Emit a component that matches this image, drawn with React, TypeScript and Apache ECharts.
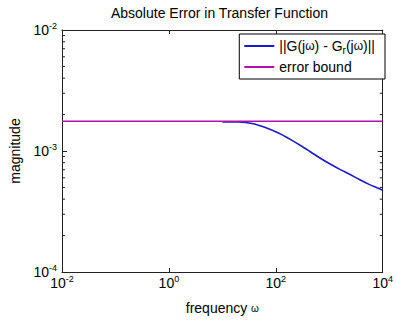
import React, { useEffect, useRef } from "react";
import * as echarts from "echarts";

// ---- data ----
const freqBlue = [10, 20, 36, 62, 112, 193, 294, 448, 681, 1038, 1578, 2399, 3656, 5559, 7780, 10000];
const errBlue = [
  1.74e-3, 1.735e-3, 1.69e-3, 1.57e-3, 1.406e-3, 1.236e-3, 1.106e-3, 9.82e-4, 8.71e-4, 7.8e-4, 7.05e-4,
  6.43e-4, 5.81e-4, 5.3e-4, 4.97e-4, 4.74e-4,
];
const boundFreq = [0.01, 10000];
const boundValue = [1.76e-3, 1.76e-3];
const yMinorTicks = [2e-4, 3e-4, 4e-4, 5e-4, 6e-4, 7e-4, 8e-4, 9e-4, 2e-3, 3e-3, 4e-3, 5e-3, 6e-3, 7e-3, 8e-3, 9e-3];
const seriesNames = ["||G(jω) - Gr(jω)||", "error bound"];
const titleText = "Absolute Error in Transfer Function";
const xName = "frequency";
const yName = "magnitude";

const FONT = "'Liberation Sans', Arial, sans-serif";
const AXIS = "#222";

const expLabel = (v: number) => {
  const e = Math.round(Math.log10(v));
  return `{b|10}{s|${e}}`;
};
const labelRich = {
  b: { fontSize: 14, fontFamily: FONT, color: "#000" },
  s: { fontSize: 9, fontFamily: FONT, color: "#000", padding: [0, 0, 9, 0] },
};

export default function App() {
  const ref = useRef<HTMLDivElement>(null);
  useEffect(() => {
    if (!ref.current) return;
    const chart = echarts.init(ref.current, null, { renderer: "svg" });
    const baseX = {
      type: "log",
      logBase: 10,
      min: 0.01,
      max: 10000,
      interval: 2,
      splitNumber: 3,
      axisLine: { show: true, lineStyle: { color: AXIS, width: 1 } },
      axisTick: { show: true, inside: true, length: 4, lineStyle: { color: AXIS } },
      splitLine: { show: false },
      minorTick: { show: false },
    };
    const baseY = {
      type: "log",
      logBase: 10,
      min: 1e-4,
      max: 1e-2,
      interval: 1,
      splitNumber: 2,
      axisLine: { show: true, lineStyle: { color: AXIS, width: 1 } },
      axisTick: { show: true, inside: true, length: 5, lineStyle: { color: AXIS } },
      splitLine: { show: false },
      minorTick: { show: false },
    };
    chart.setOption({
      animation: false,
      backgroundColor: "#fff",
      grid: { left: 55, top: 30, right: 11, bottom: 40, containLabel: false },
      graphic: [
        {
          type: "text",
          x: 219.5,
          y: 13,
          style: {
            text: titleText,
            fontSize: 14,
            fontFamily: FONT,
            fill: "#000",
            textAlign: "center",
            textVerticalAlign: "middle",
          },
        },
      ],
      legend: {
        data: seriesNames,
        orient: "vertical",
        align: "left",
        right: 11,
        top: 34,
        icon: "rect",
        itemWidth: 30,
        itemHeight: 2,
        itemGap: 5,
        padding: [5, 10, 5, 5],
        backgroundColor: "#fff",
        borderColor: "#000",
        borderWidth: 1,
        borderRadius: 0,
        formatter: (name: string) =>
          name === seriesNames[0] ? "||G(j{w|ω}) - G{sub|r}(j{w|ω})||" : name,
        textStyle: {
          fontSize: 14,
          fontFamily: FONT,
          color: "#000",
          rich: {
            w: { fontSize: 12, fontFamily: FONT, color: "#000" },
            sub: { fontSize: 10, fontFamily: FONT, color: "#000", padding: [8, 0, 0, 0] },
          },
        },
      },
      xAxis: [
        {
          ...baseX,
          position: "bottom",
          name: xName + " {w|ω}",
          nameLocation: "middle",
          nameGap: 29,
          nameTextStyle: {
            fontSize: 14,
            fontFamily: FONT,
            color: "#000",
            rich: { w: { fontSize: 10, fontFamily: FONT, color: "#000" } },
          },
          axisLabel: { show: true, margin: 2, formatter: expLabel, rich: labelRich },
        },
        {
          ...baseX,
          position: "top",
          axisLabel: { show: false },
        },
      ],
      yAxis: [
        {
          ...baseY,
          position: "left",
          name: yName,
          nameLocation: "middle",
          nameGap: 40,
          nameRotate: 90,
          nameTextStyle: { fontSize: 14, fontFamily: FONT, color: "#000" },
          axisLabel: { show: true, margin: 5, formatter: expLabel, rich: labelRich },
        },
        {
          ...baseY,
          position: "right",
          axisLabel: { show: false },
        },
      ],
      series: [
        {
          name: seriesNames[0],
          type: "line",
          xAxisIndex: 0,
          yAxisIndex: 0,
          data: freqBlue.map((f, i) => [f, errBlue[i]]),
          symbol: "none",
          smooth: 0.3,
          lineStyle: { color: "#1a1acc", width: 1.6 },
          itemStyle: { color: "#1a1acc" },
          z: 3,
        },
        {
          name: seriesNames[1],
          type: "line",
          xAxisIndex: 0,
          yAxisIndex: 0,
          data: boundFreq.map((f, i) => [f, boundValue[i]]),
          symbol: "none",
          lineStyle: { color: "#b010b0", width: 1.6 },
          itemStyle: { color: "#b010b0" },
          z: 4,
        },
        {
          type: "custom",
          xAxisIndex: 0,
          yAxisIndex: 0,
          silent: true,
          data: yMinorTicks.map((v) => [1, v]),
          encode: { x: 0, y: 1 },
          renderItem: (params: any, api: any) => {
            const y = api.coord([1, api.value(1)])[1];
            const cs = params.coordSys;
            return {
              type: "group",
              children: [
                {
                  type: "line",
                  shape: { x1: cs.x, y1: y, x2: cs.x + 3, y2: y },
                  style: { stroke: AXIS, lineWidth: 1 },
                },
                {
                  type: "line",
                  shape: { x1: cs.x + cs.width, y1: y, x2: cs.x + cs.width - 3, y2: y },
                  style: { stroke: AXIS, lineWidth: 1 },
                },
              ],
            };
          },
          z: 1,
        },
      ],
    });
    return () => chart.dispose();
  }, []);
  return (
    <div
      ref={ref}
      style={{ position: "fixed", left: 0, top: 0, width: 396, height: 320, background: "#fff" }}
    />
  );
}
